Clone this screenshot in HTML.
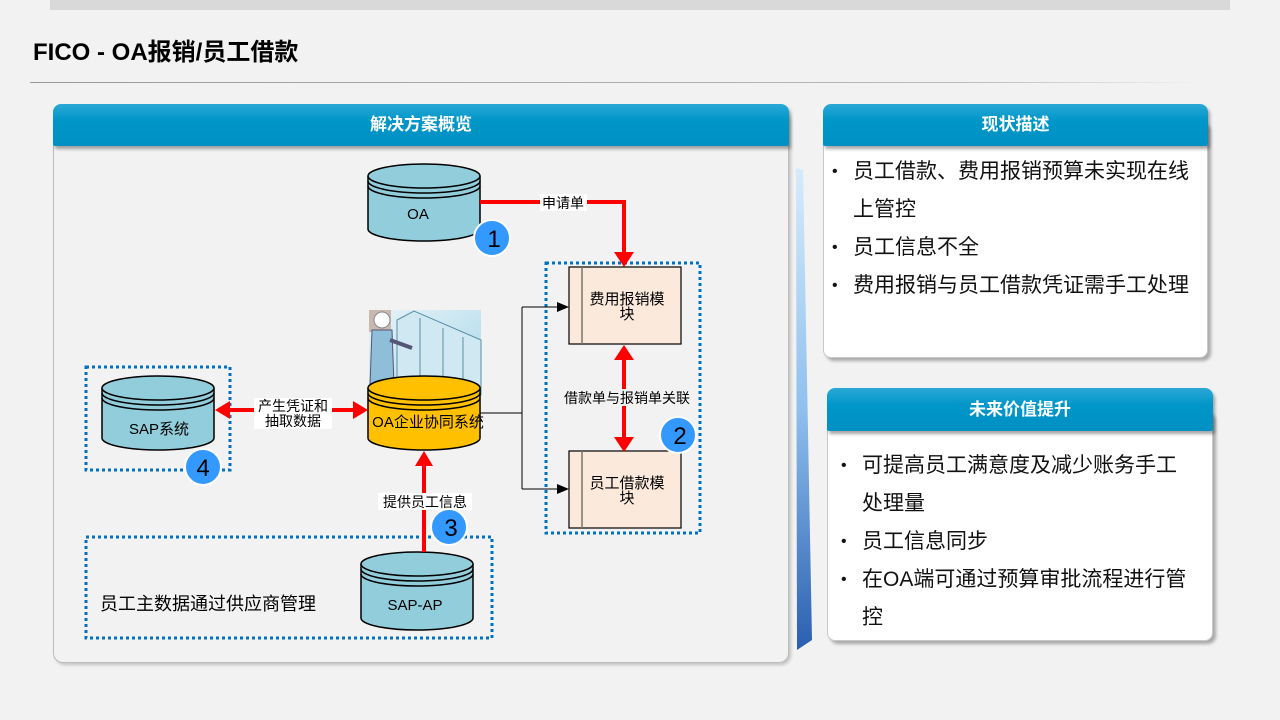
<!DOCTYPE html>
<html><head><meta charset="utf-8"><style>
*{margin:0;padding:0;box-sizing:border-box}
body{width:1280px;height:720px;background:#f2f2f2;position:relative;overflow:hidden;font-family:"Liberation Sans","Noto Sans CJK SC",sans-serif}
.abs{position:absolute}
.hdr{position:absolute;background:linear-gradient(#2aa8d6,#0096c8 40%,#0090c4);color:#fff;font-weight:bold;font-size:17px;text-align:center;border-radius:8px 8px 2px 2px;box-shadow:2px 3px 3px rgba(0,0,0,.35)}
.card{position:absolute;background:#fff;border:1px solid #c8c8c8;border-radius:8px;box-shadow:3px 3px 3px rgba(0,0,0,.3)}
ul{list-style:none}
li{position:relative;padding-left:27px;font-size:21px;line-height:38px;color:#111}
li:before{content:"•";position:absolute;left:6px;font-size:16px}
</style></head><body>
<div class="abs" style="left:50px;top:0;width:1180px;height:10px;background:#d9d9d9"></div>
<div class="abs" style="left:33px;top:32px;font-size:24px;font-weight:bold;color:#000">FICO - OA报销/员工借款</div>
<div class="abs" style="left:30px;top:82px;width:1170px;height:1px;background:linear-gradient(90deg,#999,#bbb 80%,#f2f2f2)"></div>

<div class="abs" style="left:53px;top:110px;width:736px;height:553px;border:1px solid #bdbdbd;border-radius:10px;background:#f2f2f2;box-shadow:2px 2px 3px rgba(0,0,0,.2)"></div>
<div class="hdr" style="left:53px;top:104px;width:736px;height:42px;line-height:42px">解决方案概览</div>

<div class="card" style="left:823px;top:120px;width:385px;height:238px"></div>
<div class="hdr" style="left:823px;top:104px;width:385px;height:42px;line-height:42px">现状描述</div>
<ul class="abs" style="left:826px;top:153px;width:372px">
<li>员工借款、费用报销预算未实现在线上管控</li><li>员工信息不全</li><li>费用报销与员工借款凭证需手工处理</li></ul>

<div class="card" style="left:827px;top:410px;width:386px;height:231px"></div>
<div class="hdr" style="left:827px;top:388px;width:386px;height:43px;line-height:43px">未来价值提升</div>
<ul class="abs" style="left:835px;top:447px;width:352px">
<li>可提高员工满意度及减少账务手工处理量</li><li>员工信息同步</li><li>在OA端可通过预算审批流程进行管控</li></ul>

<svg class="abs" style="left:0;top:0" width="1280" height="720" font-family="Liberation Sans,Noto Sans CJK SC,sans-serif">
<defs>
<linearGradient id="wg" x1="0" y1="0" x2="0" y2="1"><stop offset="0" stop-color="#d6ebfb"/><stop offset=".5" stop-color="#8fc0ee"/><stop offset="1" stop-color="#2a5fb0"/></linearGradient>
<linearGradient id="sv" x1="0" y1="0" x2="1" y2="1"><stop offset="0" stop-color="#e8f3f8"/><stop offset="1" stop-color="#a9d8e8"/></linearGradient>
</defs>
<path d="M796,168 L803,170 L812,640 L797,650 Z" fill="url(#wg)"/>

<g fill="none" stroke="#0070c0" stroke-width="3" stroke-dasharray="3,3">
<rect x="546" y="263" width="154" height="270"/>
<rect x="86" y="367" width="144" height="103"/>
<rect x="86" y="537" width="406" height="101"/>
</g>

<rect x="369" y="310" width="112" height="80" fill="url(#sv)"/>
<g stroke="#5b8fa8" fill="#cfe8f2" stroke-width="1">
<path d="M397,320 L414,311 L481,340 L481,395 L397,395 Z"/>
<path d="M420,318 L420,395 M443,328 L443,395 M463,337 L463,395"/>
</g>
<rect x="369" y="310" width="22" height="22" fill="#c9b8b0"/>
<circle cx="382" cy="320" r="8" fill="#fff" stroke="#888"/>
<path d="M372,330 L392,330 L394,385 L370,385 Z" fill="#8fbfd8" stroke="#557"/>
<path d="M390,340 L412,348" stroke="#557" stroke-width="4"/>

<g stroke="#000" stroke-width="1.5">
<g fill="#92cddc"><path d="M368,176 L368,229 A56,12 0 0 0 480,229 L480,176"/><ellipse cx="424" cy="176" rx="56" ry="12"/></g>
<path d="M368,181 A56,12 0 0 0 480,181 M368,186 A56,12 0 0 0 480,186" fill="none"/>
<g fill="#ffc000"><path d="M368,388 L368,438 A56,12 0 0 0 480,438 L480,388"/><ellipse cx="424" cy="388" rx="56" ry="12"/></g>
<path d="M368,393 A56,12 0 0 0 480,393 M368,398 A56,12 0 0 0 480,398" fill="none"/>
<g fill="#92cddc"><path d="M102,388 L102,438 A56,12 0 0 0 214,438 L214,388"/><ellipse cx="158" cy="388" rx="56" ry="12"/></g>
<path d="M102,393 A56,12 0 0 0 214,393 M102,398 A56,12 0 0 0 214,398" fill="none"/>
<g fill="#92cddc"><path d="M361,564 L361,618 A56,12 0 0 0 473,618 L473,564"/><ellipse cx="417" cy="564" rx="56" ry="12"/></g>
<path d="M361,569 A56,12 0 0 0 473,569 M361,574 A56,12 0 0 0 473,574" fill="none"/>
</g>
<g font-size="15" fill="#000" text-anchor="middle">
<text x="418" y="219">OA</text>
<text x="428" y="427">OA企业协同系统</text>
<text x="159" y="434">SAP系统</text>
<text x="415" y="610">SAP-AP</text>
</g>

<g stroke="#000" stroke-width="1.2" fill="#fbe9dc">
<rect x="569" y="267" width="112" height="77"/><rect x="569" y="451" width="112" height="77"/>
</g>
<path d="M582,267V344M582,451V528" stroke="#776" stroke-width="1.5"/>
<g font-size="15" text-anchor="middle">
<text x="627" y="304">费用报销模</text><text x="627" y="319">块</text>
<text x="627" y="488">员工借款模</text><text x="627" y="503">块</text>
</g>

<path d="M480,413H522M522,307V489M522,307H567M522,489H567" fill="none" stroke="#000" stroke-width="1"/>
<path d="M557,302L569,307L557,312z M557,484L569,489L557,494z" fill="#000"/>

<g stroke="#f00" stroke-width="4" fill="none">
<path d="M480,202H624V254"/>
<path d="M624,360V438"/>
<path d="M230,410H354"/>
<path d="M424,552V466"/>
</g>
<g fill="#f00">
<path d="M614,252L634,252L624,267z"/>
<path d="M614,360L634,360L624,345z M614,437L634,437L624,452z"/>
<path d="M230,401L230,419L215,410z M353,401L353,419L368,410z"/>
<path d="M415,466L433,466L424,451z"/>
</g>
<g font-size="14" text-anchor="middle">
<rect x="540" y="194" width="47" height="17" fill="#fff"/><text x="563" y="208">申请单</text>
<rect x="559" y="389" width="136" height="17" fill="#f2f2f2"/><text x="627" y="403">借款单与报销单关联</text>
<rect x="254" y="398" width="78" height="31" fill="#fff"/><text x="293" y="411">产生凭证和</text><text x="293" y="426">抽取数据</text>
<rect x="378" y="493" width="94" height="17" fill="#fff"/><text x="425" y="507">提供员工信息</text>
</g>
<text x="100" y="610" font-size="18">员工主数据通过供应商管理</text>

<g fill="#3399ff" stroke="#fff" stroke-width="2">
<circle cx="492" cy="238" r="18"/><circle cx="678" cy="435" r="18"/><circle cx="449" cy="527" r="18"/><circle cx="203" cy="467" r="18"/>
</g>
<g font-size="24" text-anchor="middle" fill="#000">
<text x="494" y="247">1</text><text x="680" y="444">2</text><text x="451" y="536">3</text><text x="203" y="476">4</text>
</g>
</svg>
</body></html>
